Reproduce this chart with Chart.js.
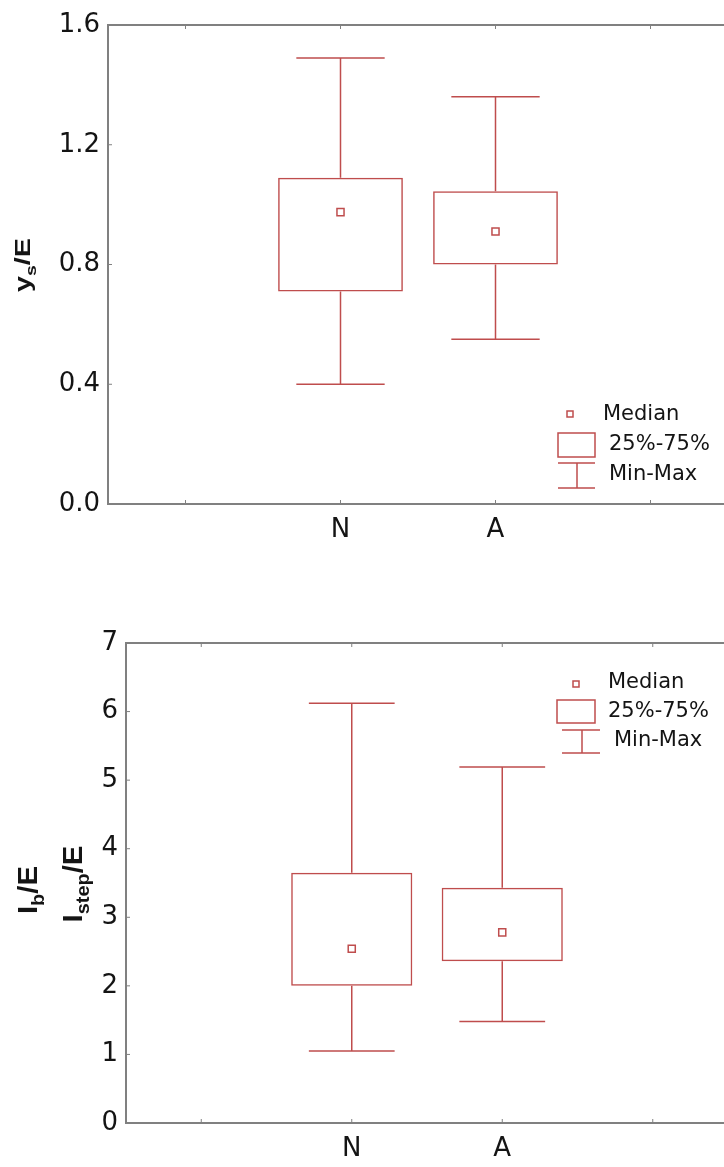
<!DOCTYPE html>
<html>
<head>
<meta charset="utf-8">
<script src="https://cdn.jsdelivr.net/npm/chart.js"></script>
<style>
  html, body { margin: 0; padding: 0; background: #fff; overflow: hidden; }
  .holder { position: absolute; left: 0; }
</style>
</head>
<body>
<div class="holder" style="top:0px"><canvas id="chartYs" width="740" height="570"></canvas></div>
<div class="holder" style="top:570px"><canvas id="chartIb" width="740" height="597"></canvas></div>
<script>
  // categories (blank slots give the empty space left and right)
  const categories = ["", "N", "A", ""];
  const legendLabels = ["Median", "25%-75%", "Min-Max"];

  // y_s/E
  const ysMin = [null, 0.40, 0.55, null];
  const ysQ1 = [null, 0.71, 0.80, null];
  const ysMedian = [null, 0.975, 0.91, null];
  const ysQ3 = [null, 1.09, 1.045, null];
  const ysMax = [null, 1.49, 1.36, null];
  const ysTicks = [0.0, 0.4, 0.8, 1.2, 1.6];

  // I_b/E , I_step/E
  const ibMin = [null, 1.05, 1.48, null];
  const ibQ1 = [null, 2.0, 2.36, null];
  const ibMedian = [null, 2.54, 2.78, null];
  const ibQ3 = [null, 3.65, 3.43, null];
  const ibMax = [null, 6.12, 5.19, null];
  const ibTicks = [0, 1, 2, 3, 4, 5, 6, 7];

  const RED = "#bf4d4d";
  const AXIS = "#808080";
  const TEXT = "#141414";

  Chart.defaults.font.family = "'DejaVu Sans', sans-serif";
  Chart.defaults.color = TEXT;

  // draws rotated axis title with subscript parts
  function drawTitle(ctx, parts, baseX, midY, size, stretch) {
    ctx.save();
    ctx.translate(baseX, midY);
    ctx.rotate(-Math.PI / 2);
    ctx.scale(stretch, 1);
    ctx.fillStyle = TEXT;
    ctx.textBaseline = "alphabetic";
    ctx.textAlign = "left";
    const fontFor = (sub) => "bold " + (sub ? Math.round(size * 0.68) : size) + "px 'Liberation Sans', Arial";
    let total = 0;
    parts.forEach(([t, sub]) => { ctx.font = fontFor(sub); total += ctx.measureText(t).width; });
    let x = -total / 2;
    parts.forEach(([t, sub]) => {
      ctx.font = fontFor(sub);
      ctx.fillText(t, x, sub ? size * 0.25 : 0);
      x += ctx.measureText(t).width;
    });
    ctx.restore();
  }

  function drawLegend(ctx, L) {
    ctx.save();
    ctx.strokeStyle = RED;
    ctx.lineWidth = 1.5;
    ctx.strokeRect(L.marker[0] - 3, L.marker[1] - 3, 6, 6);
    ctx.strokeRect(L.box[0], L.box[1], L.box[2] - L.box[0], L.box[3] - L.box[1]);
    ctx.beginPath();
    ctx.moveTo(L.caps[0], L.caps[2]); ctx.lineTo(L.caps[1], L.caps[2]);
    ctx.moveTo(L.caps[0], L.caps[3]); ctx.lineTo(L.caps[1], L.caps[3]);
    ctx.moveTo(L.stemX, L.caps[2]); ctx.lineTo(L.stemX, L.caps[3]);
    ctx.stroke();
    ctx.fillStyle = TEXT;
    ctx.font = "21px 'DejaVu Sans'";
    ctx.textBaseline = "middle";
    ctx.textAlign = "left";
    legendLabels.forEach((s, k) => ctx.fillText(s, L.text[k][0], L.text[k][1]));
    ctx.restore();
  }

  const boxExtras = {
    id: "boxExtras",
    afterDatasetsDraw(chart, args, opts) {
      const ctx = chart.ctx;
      const xs = chart.scales.x, ys = chart.scales.y;
      const area = chart.chartArea;
      ctx.save();
      // top frame + small inner ticks
      ctx.strokeStyle = AXIS;
      ctx.lineWidth = 2;
      ctx.beginPath();
      ctx.moveTo(area.left, area.top); ctx.lineTo(area.right, area.top);
      ctx.stroke();
      ctx.lineWidth = 1;
      ctx.beginPath();
      ys.ticks.forEach(t => {
        const py = ys.getPixelForValue(t.value);
        ctx.moveTo(area.left, py); ctx.lineTo(area.left + 4, py);
      });
      categories.forEach((c, i) => {
        const px = xs.getPixelForValue(i);
        ctx.moveTo(px, area.bottom); ctx.lineTo(px, area.bottom - 4);
        ctx.moveTo(px, area.top); ctx.lineTo(px, area.top + 4);
      });
      ctx.stroke();

      // whiskers
      const half = (xs.getPixelForValue(1) - xs.getPixelForValue(0)) * 0.285;
      ctx.strokeStyle = RED;
      ctx.lineWidth = 1.5;
      opts.min.forEach((lo, i) => {
        if (lo == null) return;
        const px = xs.getPixelForValue(i);
        const pMin = ys.getPixelForValue(lo);
        const pMax = ys.getPixelForValue(opts.max[i]);
        const pQ1 = ys.getPixelForValue(opts.q1[i]);
        const pQ3 = ys.getPixelForValue(opts.q3[i]);
        ctx.beginPath();
        ctx.moveTo(px, pQ3); ctx.lineTo(px, pMax);
        ctx.moveTo(px - half, pMax); ctx.lineTo(px + half, pMax);
        ctx.moveTo(px, pQ1); ctx.lineTo(px, pMin);
        ctx.moveTo(px - half, pMin); ctx.lineTo(px + half, pMin);
        ctx.stroke();
      });
      ctx.restore();

      drawLegend(ctx, opts.legend);
      opts.titles.forEach(t => drawTitle(ctx, t.parts, t.x, t.y, t.size, t.stretch));
    }
  };

  function makeChart(id, d) {
    const ctx = document.getElementById(id).getContext("2d");
    return new Chart(ctx, {
      type: "bar",
      data: {
        labels: categories,
        datasets: [
          {
            label: "25%-75%",
            data: d.q1.map((q, i) => (q == null ? null : [q, d.q3[i]])),
            backgroundColor: "rgba(0,0,0,0)",
            borderColor: RED,
            borderWidth: 1.5,
            borderSkipped: false,
            barPercentage: 0.805,
            categoryPercentage: 1.0,
          },
          {
            type: "line",
            label: "Median",
            data: d.median,
            showLine: false,
            pointStyle: "rect",
            pointRadius: 5,
            pointBorderWidth: 1.5,
            pointBorderColor: RED,
            pointBackgroundColor: "#fff",
          },
        ],
      },
      options: {
        responsive: false,
        animation: false,
        events: [],
        layout: { padding: { top: d.padTop, right: 12, left: 0, bottom: 0 } },
        plugins: {
          legend: { display: false },
          tooltip: { enabled: false },
          boxExtras: {
            min: d.min, max: d.max, q1: d.q1, q3: d.q3,
            legend: d.legend,
            titles: d.titles,
          },
        },
        scales: {
          x: {
            type: "category",
            offset: true,
            grid: { display: false, drawTicks: false },
            border: { display: true, color: AXIS, width: 2 },
            ticks: { font: { size: 26 }, color: TEXT, padding: d.xPad, maxRotation: 0, autoSkip: false },
            afterFit: (s) => { s.height = d.xHeight; },
          },
          y: {
            min: d.ticks[0],
            max: d.ticks[d.ticks.length - 1],
            grid: { display: false, drawTicks: false },
            border: { display: true, color: AXIS, width: 2 },
            ticks: { font: { size: 26 }, color: TEXT, padding: 8, callback: d.fmt },
            afterBuildTicks: (s) => { s.ticks = d.ticks.map(v => ({ value: v })); },
            afterFit: (s) => { s.width = d.yWidth; },
          },
        },
      },
      plugins: [boxExtras],
    });
  }

  makeChart("chartYs", {
    min: ysMin, q1: ysQ1, median: ysMedian, q3: ysQ3, max: ysMax, ticks: ysTicks,
    fmt: (v) => Number(v).toFixed(1),
    padTop: 25, xHeight: 66, yWidth: 108, xPad: 11,
    legend: {
      marker: [570, 414], box: [558, 433, 595, 457], caps: [558, 595, 463, 488], stemX: 577,
      text: [[603, 415], [609, 445], [609, 475]],
    },
    titles: [
      { parts: [["y", false], ["s", true], ["/E", false]], x: 30, y: 265, size: 22, stretch: 1.3 },
    ],
  });

  makeChart("chartIb", {
    min: ibMin, q1: ibQ1, median: ibMedian, q3: ibQ3, max: ibMax, ticks: ibTicks,
    fmt: (v) => String(v),
    padTop: 73, xHeight: 44, yWidth: 126, xPad: 11,
    legend: {
      marker: [576, 114], box: [557, 130, 595, 153], caps: [562, 600, 160, 183], stemX: 582,
      text: [[608, 113], [608, 142], [614, 171]],
    },
    titles: [
      { parts: [["I", false], ["b", true], ["/E", false]], x: 37, y: 320, size: 28, stretch: 1.05 },
      { parts: [["I", false], ["step", true], ["/E", false]], x: 82, y: 314, size: 28, stretch: 1.05 },
    ],
  });
</script>
</body>
</html>
